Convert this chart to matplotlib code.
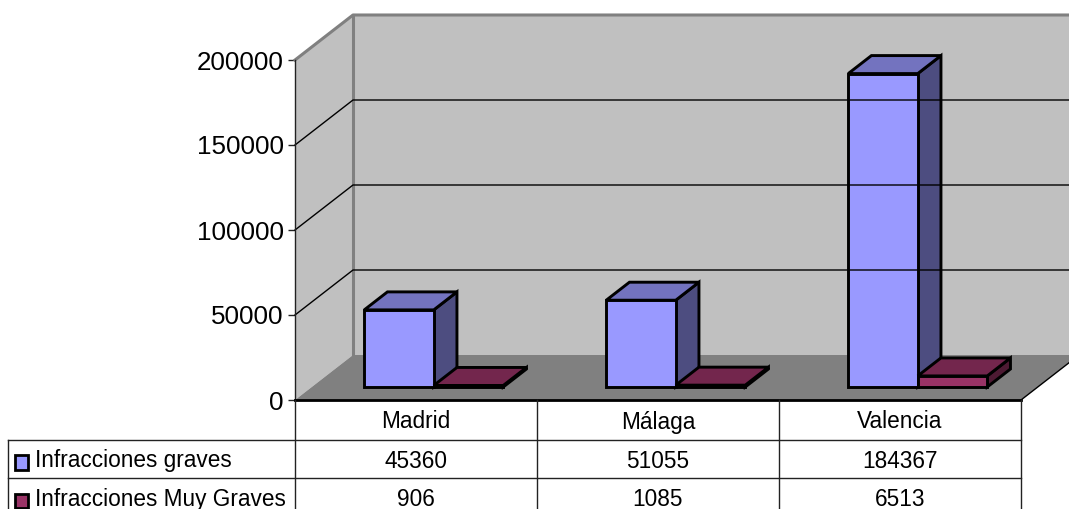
import matplotlib
matplotlib.use("Agg")
from matplotlib import pyplot as plt
from matplotlib.patches import Polygon, Rectangle

categories = ["Madrid", "Málaga", "Valencia"]
graves = [45360, 51055, 184367]
muy_graves = [906, 1085, 6513]
series_names = ["Infracciones graves", "Infracciones Muy Graves"]
y_ticks = [0, 50000, 100000, 150000, 200000]

W, H = 1069, 509
LEFT, RIGHT, TOP, BOTTOM = 295, 1021, 60, 400
DX_PX, DY_PX = 58, 45

plt.rcParams["font.family"] = ["Liberation Sans", "DejaVu Sans"]

fig = plt.figure(figsize=(W / 100, H / 100), dpi=100)
ax = fig.add_axes([LEFT / W, 1 - BOTTOM / H, (RIGHT - LEFT) / W, (BOTTOM - TOP) / H])
ax.set_xlim(0, 3)
ax.set_ylim(0, 200000)
ax.patch.set_visible(False)

cat_px = (RIGHT - LEFT) / 3
val_px = (BOTTOM - TOP) / 200000


def proj(x, v, d):
    # d is the depth, 0 at the front edge of the floor and 1 at the back wall
    return x + d * DX_PX / cat_px, v + d * DY_PX / val_px


def poly(points, **kw):
    kw.setdefault("clip_on", False)
    ax.add_patch(Polygon(points, closed=True, **kw))


def path(points, **kw):
    ax.plot([p[0] for p in points], [p[1] for p in points], clip_on=False, **kw)


# walls and floor
poly([proj(0, 0, 0), proj(0, 0, 1), proj(0, 200000, 1), proj(0, 200000, 0)],
     facecolor="#c0c0c0", edgecolor="none")
poly([proj(0, 0, 1), proj(3, 0, 1), proj(3, 200000, 1), proj(0, 200000, 1)],
     facecolor="#c0c0c0", edgecolor="none")
path([proj(0, 200000, 0), proj(0, 200000, 1), proj(3, 200000, 1)],
     color="#808080", linewidth=2.2)
path([proj(0, 200000, 1), proj(0, 0, 1)], color="#808080", linewidth=2.2)
poly([proj(0, 0, 0), proj(3, 0, 0), proj(3, 0, 1), proj(0, 0, 1)],
     facecolor="#808080", edgecolor="none")
path([proj(3, 0, 0), proj(3, 0, 1)], color="black", linewidth=1)

for v in y_ticks[1:-1]:
    path([proj(0, v, 0), proj(0, v, 1), proj(3, v, 1)], color="black", linewidth=1)

# bars
D0, D1 = 13 / 45, 31 / 45
BAR_W = 69.5 / cat_px
BAR_OFF = 52.5 / cat_px
series = [
    (graves, 0, "#9999ff", "#7373bf", "#4d4d80"),
    (muy_graves, 1, "#993366", "#73264d", "#4d1a33"),
]
for i in range(len(categories)):
    for vals, n, front, top, side in series:
        v = vals[i]
        xl = i + BAR_OFF + n * BAR_W
        xr = xl + BAR_W
        style = dict(edgecolor="black", linewidth=2.1, joinstyle="miter")
        poly([proj(xr, 0, D0), proj(xr, 0, D1), proj(xr, v, D1), proj(xr, v, D0)],
             facecolor=side, **style)
        poly([proj(xl, v, D0), proj(xr, v, D0), proj(xr, v, D1), proj(xl, v, D1)],
             facecolor=top, **style)
        fx, fy = proj(xl, 0, D0)
        ax.bar(fx, v, width=BAR_W, bottom=fy, align="edge", facecolor=front,
               clip_on=False, **style)

ax.set_xlim(0, 3)
ax.set_ylim(0, 200000)
for name in ["top", "right", "bottom"]:
    ax.spines[name].set_visible(False)
ax.spines["left"].set_linewidth(1)
ax.spines["left"].set_color("#222222")
ax.set_xticks([])
ax.set_yticks(y_ticks)
ax.set_yticklabels([str(t) for t in y_ticks], fontsize=18.7)
ax.tick_params(axis="y", length=5, width=1, pad=3, color="#222222")

# data table below the plot, in pixel coordinates
tab = fig.add_axes([0, 0, 1, 1])
tab.set_xlim(0, W)
tab.set_ylim(H, 0)
tab.axis("off")
tab.patch.set_visible(False)

ROW_Y = [400, 440, 478]
TEXT_Y = [422, 461, 499.5]
TABLE_LEFT = 8
line = dict(color="#222222", linewidth=1)
tab.plot([LEFT, RIGHT], [ROW_Y[0], ROW_Y[0]], color="black", linewidth=2)
for y in ROW_Y[1:]:
    tab.plot([TABLE_LEFT, RIGHT], [y, y], **line)
tab.plot([TABLE_LEFT, TABLE_LEFT], [ROW_Y[1], H], **line)
for k in range(4):
    x = LEFT + k * cat_px
    tab.plot([x, x], [BOTTOM, H], **line)

for k, name in enumerate(categories):
    xc = LEFT + (k + 0.5) * cat_px
    tab.text(xc, TEXT_Y[0], name, ha="center", va="center", fontsize=16.3)
    tab.text(xc, TEXT_Y[1], str(graves[k]), ha="center", va="center", fontsize=16.3)
    tab.text(xc, TEXT_Y[2], str(muy_graves[k]), ha="center", va="center", fontsize=16.3)

for r, (name, color) in enumerate(zip(series_names, ["#9999ff", "#993366"])):
    y = TEXT_Y[r + 1]
    tab.add_patch(Rectangle((15, y - 6), 13, 14.5, facecolor=color, edgecolor="black",
                            linewidth=2, clip_on=False))
    tab.text(35, y, name, ha="left", va="center", fontsize=16.3)

fig.savefig("out.png", dpi=100)
